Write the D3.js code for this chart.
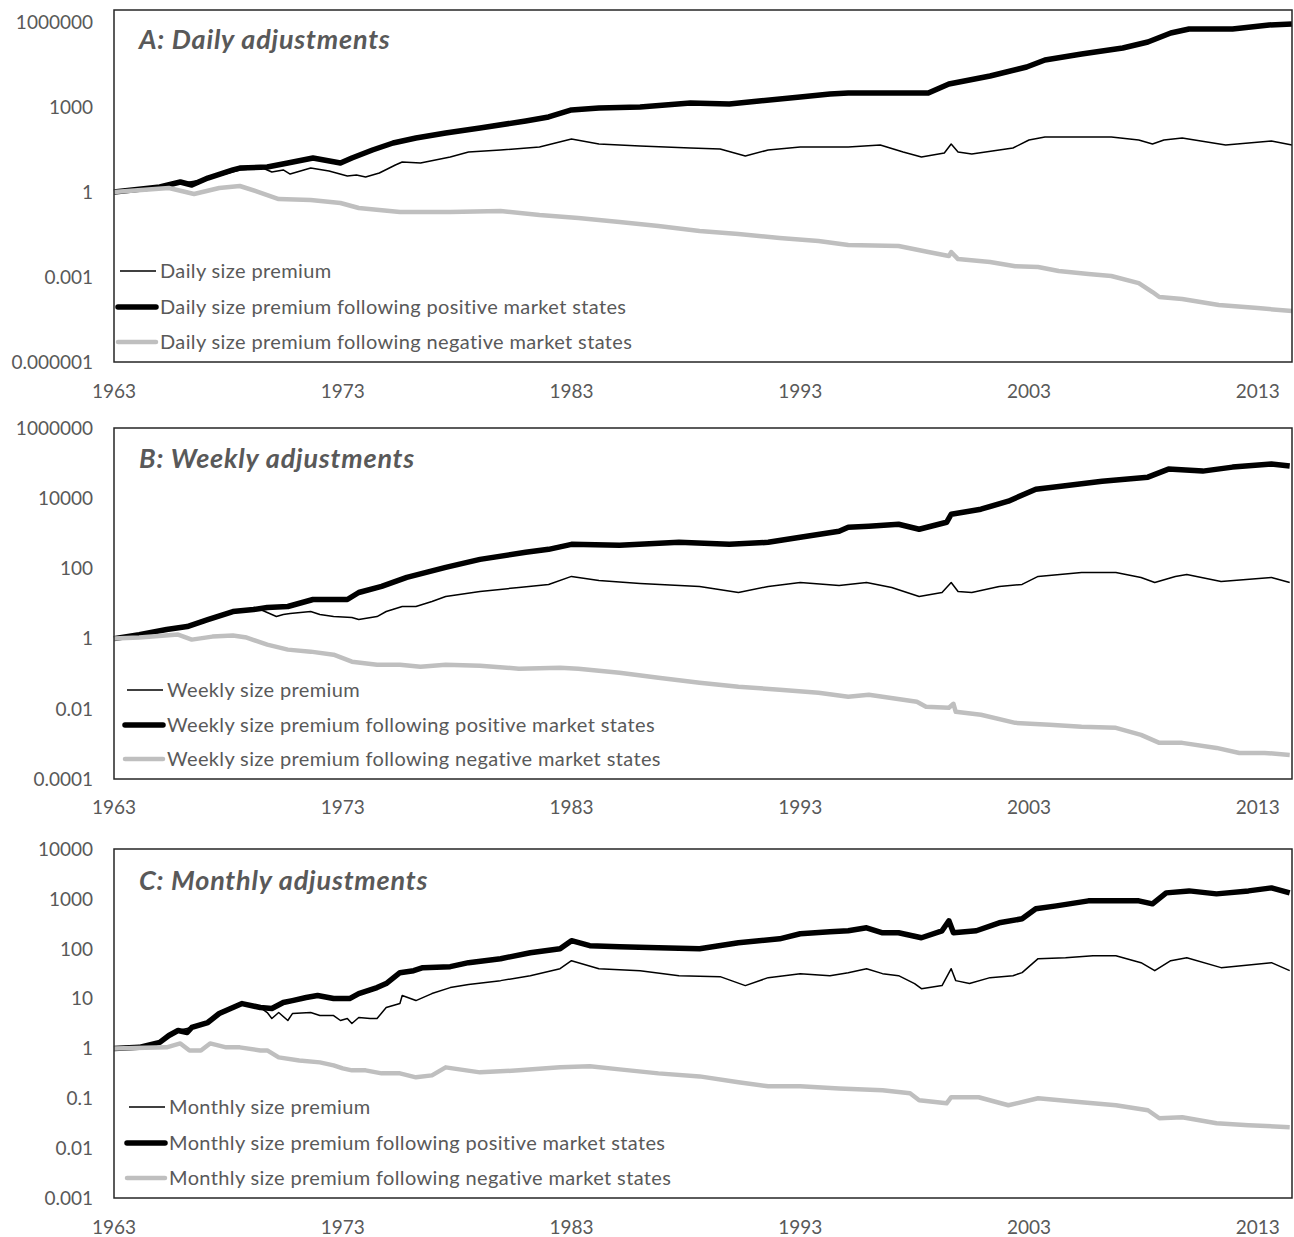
<!DOCTYPE html>
<html>
<head>
<meta charset="utf-8">
<script src="https://cdn.jsdelivr.net/npm/d3@7"></script>
<style>
  body { margin: 0; background: #fff; }
  svg { display: block; }
  text { font-family: Lato, "Open Sans", sans-serif; fill: #595959; }
</style>
</head>
<body>
<svg id="chart" width="1294" height="1237"></svg>
<script>
// Year labels along each horizontal axis
const yearTicks = [1963, 1973, 1983, 1993, 2003, 2013];

// Log-axis tick values for each panel
const dailyTicks = [1e-6, 1e-3, 1, 1e3, 1e6];
const weeklyTicks = [1e-4, 1e-2, 1, 1e2, 1e4, 1e6];
const monthlyTicks = [1e-3, 1e-2, 1e-1, 1, 10, 100, 1000, 10000];

// Cumulative value of $1 invested, as [year, value]
const dailyAll = [[1963.0,1],[1965.0,1.5],[1967.1,2.9],[1968.5,6.0],[1969.5,7.0],[1969.9,5.1],[1970.4,6.0],[1970.7,4.3],[1971.6,7.0],[1972.4,5.5],[1973.2,3.7],[1973.6,4.0],[1974.0,3.4],[1974.6,4.7],[1975.3,9.0],[1975.6,11.5],[1976.4,10.6],[1977.7,17.2],[1978.5,25.8],[1979.9,30.4],[1981.6,38.8],[1983.0,74],[1984.2,49.5],[1986.0,42],[1988.2,35.7],[1989.5,33],[1990.6,18.7],[1991.6,30.4],[1993.0,38.8],[1995.1,38.8],[1996.5,45.6],[1997.5,25.8],[1998.3,17.2],[1999.3,23.8],[1999.6,49.5],[1999.9,25.8],[2000.5,21.9],[2002.3,35.7],[2003.0,68.5],[2003.7,87],[2005.8,87],[2006.6,87],[2007.8,68.5],[2008.4,49.5],[2008.9,68.5],[2009.7,80.5],[2011.6,45.6],[2013.6,63],[2014.5,45.6]];
const dailyPos = [[1963.0,1],[1965.0,1.5],[1965.9,2.25],[1966.4,1.77],[1967.1,3.1],[1968.2,6.0],[1968.5,7.0],[1969.7,7.6],[1970.6,10.6],[1971.7,15.9],[1972.9,10.6],[1973.4,15.9],[1974.3,30.4],[1975.2,53.7],[1976.2,80.5],[1977.5,121],[1979.0,182],[1981.0,321],[1982.0,444],[1983.0,785],[1984.2,923],[1986.0,1000],[1988.2,1386],[1989.9,1277],[1991.2,1630],[1993.0,2258],[1994.3,2880],[1995.1,3125],[1998.6,3125],[1999.5,6490],[2001.3,12400],[2002.9,25800],[2003.7,45700],[2005.3,74300],[2007.1,121000],[2008.2,197000],[2009.2,410000],[2010.0,567000],[2011.9,567000],[2013.5,785000],[2014.5,851000]];
const dailyNeg = [[1963.0,1],[1965.4,1.38],[1966.5,0.85],[1967.6,1.38],[1968.5,1.63],[1969.2,1.08],[1970.2,0.566],[1971.6,0.522],[1972.9,0.409],[1973.7,0.272],[1975.5,0.197],[1977.7,0.197],[1979.9,0.213],[1981.6,0.154],[1983.3,0.121],[1985.1,0.0873],[1986.8,0.0631],[1988.6,0.042],[1990.3,0.0329],[1992.1,0.0238],[1993.8,0.0186],[1995.1,0.0135],[1997.3,0.0124],[1998.6,0.0076],[1999.5,0.0055],[1999.6,0.0076],[1999.9,0.0043],[2001.3,0.0034],[2002.4,0.0024],[2003.4,0.00225],[2004.3,0.00163],[2005.6,0.00127],[2006.6,0.00108],[2007.8,0.00061],[2008.4,0.000295],[2008.7,0.000197],[2009.7,0.000167],[2011.3,0.000103],[2013.0,0.00008],[2014.5,0.000063]];

const weeklyAll = [[1963.0,1],[1964.1,1.3],[1965.3,1.81],[1966.2,2.2],[1967.1,3.49],[1968.2,5.91],[1969.4,6.74],[1969.7,5.53],[1970.1,4.25],[1970.4,4.85],[1970.7,5.18],[1971.6,5.91],[1972.0,4.85],[1972.6,4.25],[1973.4,3.98],[1973.7,3.49],[1974.5,4.25],[1974.9,5.91],[1975.6,8.21],[1976.2,8.21],[1976.9,11.4],[1977.5,15.8],[1979.0,22],[1980.7,28.6],[1982.0,34.9],[1983.0,59.1],[1984.2,45.4],[1986.0,37.3],[1988.6,30.6],[1990.3,20.6],[1991.6,30.6],[1993.0,39.8],[1994.7,32.7],[1995.1,34.9],[1995.9,39.8],[1997.0,28.6],[1998.2,15.8],[1999.2,20.6],[1999.6,39.8],[1999.9,22],[2000.5,20.6],[2001.7,30.6],[2002.7,34.9],[2003.4,59.1],[2005.3,76.9],[2006.8,76.9],[2007.9,55.3],[2008.5,39.8],[2009.4,59.1],[2009.9,67.4],[2011.4,42.5],[2013.6,55.3],[2014.4,39.8]];
const weeklyPos = [[1963.0,1],[1964.1,1.3],[1965.3,1.81],[1966.2,2.2],[1967.1,3.49],[1968.2,5.91],[1969.1,6.74],[1969.7,7.69],[1970.6,8.21],[1971.7,13],[1973.2,13],[1973.7,20.6],[1974.7,30.6],[1975.8,55.3],[1977.5,107],[1979.0,181],[1981.0,287],[1982.0,349],[1983.0,485],[1985.1,454],[1987.7,553],[1989.9,485],[1991.6,553],[1993.0,769],[1994.7,1140],[1995.1,1485],[1996.0,1585],[1997.3,1808],[1998.2,1301],[1999.4,2062],[1999.6,3490],[2000.9,4850],[2002.1,8210],[2003.3,18080],[2004.4,22030],[2006.2,30600],[2008.2,39800],[2009.1,67400],[2010.6,59100],[2011.9,76900],[2013.6,93600],[2014.4,82100]];
const weeklyNeg = [[1963.0,1],[1964.1,1.07],[1965.8,1.3],[1966.4,0.936],[1967.3,1.14],[1968.2,1.22],[1968.8,1.07],[1969.7,0.674],[1970.6,0.485],[1971.6,0.425],[1972.6,0.349],[1973.4,0.22],[1974.5,0.181],[1975.5,0.181],[1976.4,0.158],[1977.5,0.181],[1979.0,0.169],[1980.7,0.139],[1982.5,0.148],[1983.3,0.139],[1985.1,0.107],[1986.8,0.0769],[1988.6,0.0553],[1990.3,0.0425],[1992.1,0.0349],[1993.8,0.0287],[1995.1,0.022],[1996.0,0.0251],[1998.1,0.0158],[1998.5,0.0114],[1999.5,0.0107],[1999.7,0.0139],[1999.8,0.0082],[2000.9,0.00674],[2002.4,0.00398],[2003.9,0.00349],[2005.3,0.00306],[2006.8,0.00287],[2007.9,0.00181],[2008.7,0.00107],[2009.7,0.00107],[2011.2,0.000769],[2012.2,0.000553],[2013.3,0.000553],[2014.4,0.000485]];

const monthlyAll = [[1963.0,1],[1964.1,1.05],[1965.0,1.32],[1965.8,2.29],[1966.4,2.63],[1967.1,3.31],[1967.6,5.01],[1968.2,6.61],[1968.6,7.94],[1969.4,6.61],[1969.7,5.25],[1969.9,3.98],[1970.2,5.25],[1970.6,3.63],[1970.8,5.01],[1971.6,5.25],[1972.0,4.57],[1972.6,4.57],[1972.9,3.63],[1973.2,3.98],[1973.4,3.16],[1973.7,4.17],[1974.2,3.98],[1974.5,3.98],[1974.9,6.61],[1975.5,7.94],[1975.6,11.5],[1976.2,9.12],[1976.9,12.6],[1977.7,16.6],[1978.5,19.1],[1979.9,22.9],[1981.2,28.8],[1982.5,39.8],[1983.0,57.5],[1984.2,39.8],[1986.0,36.3],[1987.7,28.8],[1989.5,27.5],[1990.6,18.2],[1991.6,26.3],[1993.0,31.6],[1994.3,28.8],[1995.1,33.1],[1995.9,39.8],[1996.6,31.6],[1997.3,28.8],[1998.0,20],[1998.3,15.8],[1999.2,18.2],[1999.6,39.8],[1999.8,22.9],[2000.4,20],[2001.3,26.3],[2002.3,28.8],[2002.7,33.1],[2003.4,63.1],[2004.6,66.1],[2005.8,72.4],[2006.8,72.4],[2007.9,52.5],[2008.5,36.3],[2009.2,57.5],[2009.9,66.1],[2011.4,41.7],[2013.6,52.5],[2014.4,36.3]];
const monthlyPos = [[1963.0,1],[1964.1,1.05],[1965.0,1.32],[1965.4,1.82],[1965.8,2.29],[1966.2,2.09],[1966.4,2.63],[1967.1,3.31],[1967.6,5.01],[1968.2,6.61],[1968.6,7.94],[1969.4,6.61],[1969.9,6.31],[1970.4,8.32],[1970.8,9.12],[1971.4,10.5],[1971.9,11.5],[1972.6,10],[1973.3,10],[1973.7,12.6],[1974.5,16.6],[1974.9,20],[1975.5,33.1],[1976.1,36.3],[1976.5,41.7],[1977.7,43.7],[1978.5,52.5],[1979.9,63.1],[1981.2,83.2],[1982.5,100],[1983.0,145],[1983.8,115],[1985.1,110],[1986.8,105],[1988.6,100],[1990.3,132],[1992.1,158],[1993.0,200],[1994.3,219],[1995.1,229],[1995.9,263],[1996.6,209],[1997.3,209],[1998.3,166],[1999.2,229],[1999.5,363],[1999.7,209],[2000.7,229],[2001.7,331],[2002.7,398],[2003.3,631],[2004.2,724],[2005.6,912],[2007.8,912],[2008.4,794],[2009.0,1318],[2010.0,1445],[2011.2,1259],[2012.6,1445],[2013.6,1660],[2014.4,1318]];
const monthlyNeg = [[1963.0,1],[1965.3,1.05],[1965.9,1.26],[1966.3,0.912],[1966.8,0.912],[1967.2,1.26],[1967.9,1.05],[1968.5,1.05],[1969.4,0.912],[1969.7,0.912],[1970.2,0.661],[1971.1,0.575],[1972.0,0.525],[1972.6,0.457],[1973.0,0.398],[1973.4,0.363],[1974.0,0.363],[1974.7,0.316],[1975.5,0.316],[1976.2,0.263],[1976.9,0.288],[1977.5,0.417],[1979.0,0.331],[1980.7,0.363],[1982.5,0.417],[1983.8,0.437],[1985.1,0.38],[1986.8,0.316],[1988.6,0.275],[1990.3,0.209],[1991.6,0.174],[1993.0,0.174],[1994.7,0.158],[1996.6,0.145],[1997.8,0.126],[1998.2,0.0912],[1999.4,0.0794],[1999.6,0.105],[2000.8,0.105],[2002.1,0.0724],[2003.4,0.1],[2005.3,0.0832],[2006.8,0.0724],[2008.2,0.0575],[2008.7,0.0398],[2009.7,0.0417],[2011.2,0.0316],[2012.6,0.0288],[2014.4,0.0263]];

// Panel layout
const plotLeft = 114, plotRight = 1292;
const panels = [
  { title: "A: Daily adjustments", name: "Daily", ticks: dailyTicks,
    all: dailyAll, pos: dailyPos, neg: dailyNeg,
    boxTop: 10, boxBottom: 362, yMinPx: 362, yMaxPx: 22, yearY: 391,
    titleY: 49, legendX: 118, legendY: [271, 307, 342] },
  { title: "B: Weekly adjustments", name: "Weekly", ticks: weeklyTicks,
    all: weeklyAll, pos: weeklyPos, neg: weeklyNeg,
    boxTop: 428, boxBottom: 779, yMinPx: 779, yMaxPx: 428, yearY: 807,
    titleY: 468, legendX: 125, legendY: [690, 725, 759] },
  { title: "C: Monthly adjustments", name: "Monthly", ticks: monthlyTicks,
    all: monthlyAll, pos: monthlyPos, neg: monthlyNeg,
    boxTop: 849, boxBottom: 1198, yMinPx: 1198, yMaxPx: 849, yearY: 1227,
    titleY: 890, legendX: 127, legendY: [1107, 1143, 1178] }
];

const styles = {
  all: { color: "#000000", width: 1.5 },
  pos: { color: "#000000", width: 5.5 },
  neg: { color: "#bfbfbf", width: 4.5 }
};

const svg = d3.select("#chart");
const x = d3.scaleLinear().domain([1963, 2014.5]).range([plotLeft, plotRight]);

const fmt = v => v >= 1 ? String(Math.round(v)) : v.toFixed(Math.round(-Math.log10(v)));

panels.forEach(p => {
  const g = svg.append("g");
  const y = d3.scaleLog()
    .domain([p.ticks[0], p.ticks[p.ticks.length - 1]])
    .range([p.yMinPx, p.yMaxPx]);

  // y-axis labels
  g.append("g").selectAll("text").data(p.ticks).join("text")
    .attr("x", 93).attr("y", d => y(d)).attr("dy", "0.36em")
    .attr("text-anchor", "end").attr("font-size", 19)
    .text(fmt);

  // x-axis labels
  g.append("g").selectAll("text").data(yearTicks).join("text")
    .attr("x", d => x(d)).attr("y", p.yearY).attr("dy", "0.36em")
    .attr("text-anchor", "middle").attr("font-size", 19)
    .text(d => d);

  // series
  const line = d3.line().x(d => x(d[0])).y(d => y(d[1]));
  ["all", "pos", "neg"].forEach(k => {
    g.append("path").datum(p[k])
      .attr("d", line)
      .attr("fill", "none")
      .attr("stroke", styles[k].color)
      .attr("stroke-width", styles[k].width)
      .attr("stroke-linejoin", "round")
      .attr("stroke-linecap", "butt");
  });

  // plot frame
  g.append("rect")
    .attr("x", plotLeft).attr("y", p.boxTop)
    .attr("width", plotRight - plotLeft).attr("height", p.boxBottom - p.boxTop)
    .attr("fill", "none").attr("stroke", "#262626").attr("stroke-width", 1.5);

  // panel title
  g.append("text")
    .attr("x", 139).attr("y", p.titleY)
    .attr("font-size", 27).attr("font-weight", "bold").attr("font-style", "italic")
    .attr("letter-spacing", 0.8)
    .text(p.title);

  // legend
  const labels = [
    `${p.name} size premium`,
    `${p.name} size premium following positive market states`,
    `${p.name} size premium following negative market states`
  ];
  ["all", "pos", "neg"].forEach((k, i) => {
    const ly = p.legendY[i];
    g.append("line")
      .attr("x1", p.legendX + (k === "all" ? 2 : 0)).attr("x2", p.legendX + 38)
      .attr("y1", ly).attr("y2", ly)
      .attr("stroke", styles[k].color).attr("stroke-width", styles[k].width)
      .attr("stroke-linecap", k === "all" ? "butt" : "round");
    g.append("text")
      .attr("x", p.legendX + 42).attr("y", ly).attr("dy", "0.36em")
      .attr("font-size", 20).attr("letter-spacing", 0.37)
      .text(labels[i]);
  });
});
</script>
</body>
</html>
